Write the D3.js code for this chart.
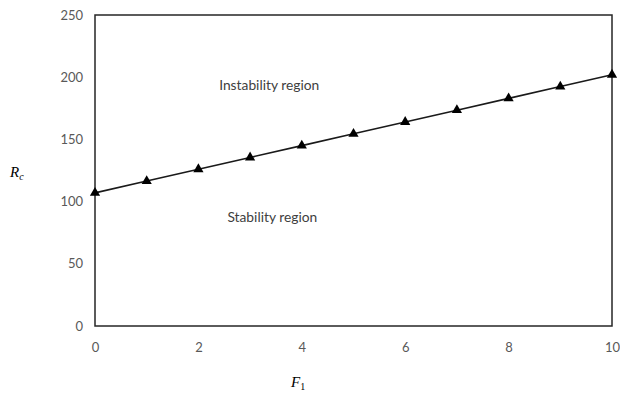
<!DOCTYPE html>
<html>
<head>
<meta charset="utf-8">
<script src="https://cdn.jsdelivr.net/npm/d3@7"></script>
<style>
  body { margin: 0; background: #fff; }
  .tick text { font-family: Lato, 'Open Sans', sans-serif; font-size: 13px; fill: #595959; }
</style>
</head>
<body>
<script>
const fValues = [0, 1, 2, 3, 4, 5, 6, 7, 8, 9, 10]
const rcValues = [107, 116.5, 126, 135.5, 145, 154.5, 164, 173.5, 183, 192.5, 202]
const xTicks = [0, 2, 4, 6, 8, 10]
const yTicks = [0, 50, 100, 150, 200, 250]

const data = fValues.map((f, i) => ({ f: f, rc: rcValues[i] }))

const outerWidth = 620
const outerHeight = 398
const margin = { left: 95, top: 15, right: 8, bottom: 72 }
const innerWidth = outerWidth - margin.left - margin.right
const innerHeight = outerHeight - margin.top - margin.bottom

const svg = d3.select('body').append('svg')
  .attr('width', outerWidth)
  .attr('height', outerHeight)

const g = svg.append('g')
  .attr('transform', 'translate(' + margin.left + ',' + margin.top + ')')

const xScale = d3.scaleLinear().domain([0, 10]).range([0, innerWidth])
const yScale = d3.scaleLinear().domain([0, 250]).range([innerHeight, 0])

// frame
g.append('rect')
  .attr('width', innerWidth)
  .attr('height', innerHeight)
  .attr('fill', 'none')
  .attr('stroke', '#262626')
  .attr('stroke-width', 1.5)

g.append('g')
  .attr('transform', 'translate(0,' + innerHeight + ')')
  .call(d3.axisBottom(xScale).tickValues(xTicks).tickSize(0).tickPadding(17))
  .call(a => a.select('.domain').remove())

g.append('g')
  .call(d3.axisLeft(yScale).tickValues(yTicks).tickSize(0).tickPadding(12))
  .call(a => a.select('.domain').remove())

const line = d3.line()
  .x(d => xScale(d.f))
  .y(d => yScale(d.rc))

g.append('path')
  .datum(data)
  .attr('fill', 'none')
  .attr('stroke', '#1a1a1a')
  .attr('stroke-width', 1.6)
  .attr('d', line)

g.selectAll('.marker')
  .data(data)
  .enter()
  .append('path')
  .attr('class', 'marker')
  .attr('transform', d => 'translate(' + xScale(d.f) + ',' + yScale(d.rc) + ')')
  .attr('d', d3.symbol().type(d3.symbolTriangle).size(45))
  .attr('fill', '#000')

// region labels
g.append('text')
  .attr('x', xScale(3.37))
  .attr('y', yScale(190))
  .attr('text-anchor', 'middle')
  .style('font-family', "Lato, 'Open Sans', sans-serif")
  .style('font-size', '13.8px')
  .attr('fill', '#404040')
  .text('Instability region')

g.append('text')
  .attr('x', xScale(3.43))
  .attr('y', yScale(84))
  .attr('text-anchor', 'middle')
  .style('font-family', "Lato, 'Open Sans', sans-serif")
  .style('font-size', '13.8px')
  .attr('fill', '#404040')
  .text('Stability region')

// axis titles
const rc = svg.append('text')
  .attr('x', 10)
  .attr('y', 177)
  .style('font-family', "'Liberation Serif', serif")
  .style('font-style', 'italic')
  .style('font-size', '15px')
  .attr('fill', '#000')
rc.append('tspan').text('R')
rc.append('tspan').attr('dy', 3).style('font-size', '10px').text('c')

const f1 = svg.append('text')
  .attr('x', 291)
  .attr('y', 387)
  .style('font-family', "'Liberation Serif', serif")
  .style('font-size', '15px')
  .attr('fill', '#000')
f1.append('tspan').style('font-style', 'italic').text('F')
f1.append('tspan').attr('dy', 3).style('font-size', '10px').text('1')
</script>
</body>
</html>
